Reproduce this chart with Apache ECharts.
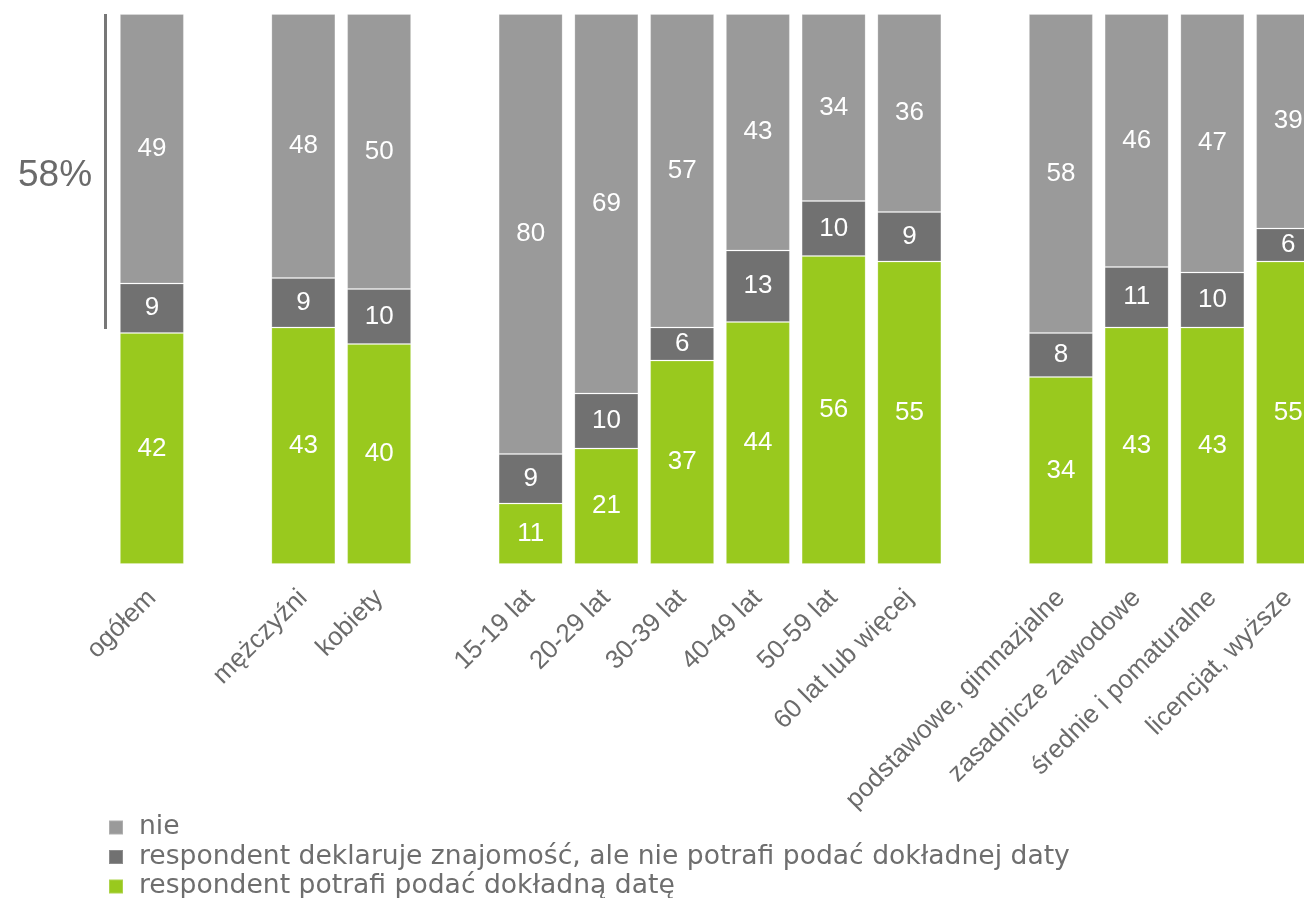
<!DOCTYPE html>
<html>
<head>
<meta charset="utf-8">
<script src="https://cdn.jsdelivr.net/npm/echarts@6/dist/echarts.min.js"></script>
<style>html,body{margin:0;padding:0;background:#fff;overflow:hidden;width:1304px;height:898px}#c{width:1326px;height:898px}</style>
</head>
<body>
<div id="c"></div>
<script>
// categories ('' = spacer between groups)
const categories = ['ogółem', '', 'mężczyźni', 'kobiety', '', '15-19 lat', '20-29 lat', '30-39 lat', '40-49 lat', '50-59 lat', '60 lat lub więcej', '', 'podstawowe, gimnazjalne', 'zasadnicze zawodowe', 'średnie i pomaturalne', 'licencjat, wyższe'];
const seriesNames = ['nie', 'respondent deklaruje znajomość, ale nie potrafi podać dokładnej daty', 'respondent potrafi podać dokładną datę'];
const nie = [49, null, 48, 50, null, 80, 69, 57, 43, 34, 36, null, 58, 46, 47, 39];
const deklaruje = [9, null, 9, 10, null, 9, 10, 6, 13, 10, 9, null, 8, 11, 10, 6];
const potrafi = [42, null, 43, 40, null, 11, 21, 37, 44, 56, 55, null, 34, 43, 43, 55];
// bracket annotation for 'ogółem': nie + deklaruje
const bracketLabel = '58%';
const bracketFrom = 100;
const bracketTo = 42;

const colors = {nie: '#9a9a9a', dekl: '#717171', green: '#99c91e'};
const labelCfg = {show: true, position: 'inside', color: '#ffffff', fontSize: 26, fontFamily: 'Liberation Sans, Arial, sans-serif'};
const itemBorder = {borderColor: 'rgba(255,255,255,0.2)', borderWidth: 1};

const chart = echarts.init(document.getElementById('c'), null, {renderer: 'canvas'});
chart.setOption({
  animation: false,
  backgroundColor: '#ffffff',
  grid: {left: 114, right: 0, top: 14, bottom: 334, containLabel: false},
  legend: {
    orient: 'vertical', left: 108, top: 814, height: 120, itemWidth: 14, itemHeight: 14, itemGap: 2.5, padding: 0,
    icon: 'rect',
    data: seriesNames,
    textStyle: {color: '#6e6e6e', fontSize: 26.6, lineHeight: 27, fontFamily: 'DejaVu Sans, Verdana, sans-serif', padding: [0, 0, 0, 11]}
  },
  xAxis: {
    type: 'category', data: categories,
    axisLine: {show: false}, axisTick: {show: false},
    axisLabel: {interval: 0, rotate: 45, margin: 30, color: '#6b6b6b', fontSize: 26, fontFamily: 'Liberation Sans, Arial, sans-serif'}
  },
  yAxis: {type: 'value', min: 0, max: 100, show: false},
  series: [
    {name: seriesNames[2], type: 'bar', stack: 's', barWidth: 64, data: potrafi, itemStyle: Object.assign({color: colors.green}, itemBorder), label: labelCfg},
    {name: seriesNames[1], type: 'bar', stack: 's', barWidth: 64, data: deklaruje, itemStyle: Object.assign({color: colors.dekl}, itemBorder), label: labelCfg},
    {name: seriesNames[0], type: 'bar', stack: 's', barWidth: 64, data: nie, itemStyle: Object.assign({color: colors.nie}, itemBorder), label: labelCfg}
  ]
});

const yTop = chart.convertToPixel({yAxisIndex: 0}, bracketFrom);
const yBot = chart.convertToPixel({yAxisIndex: 0}, bracketTo);
chart.setOption({
  graphic: [
    {type: 'rect', shape: {x: 104, y: yTop, width: 3, height: yBot - yTop - 4}, style: {fill: '#777777'}},
    {type: 'text', x: 55, y: (yTop + yBot) / 2 + 2, style: {text: bracketLabel, fill: '#6a6a6a', fontSize: 37, fontFamily: 'Liberation Sans, Arial, sans-serif', align: 'center', verticalAlign: 'middle'}}
  ]
});
</script>
</body>
</html>
